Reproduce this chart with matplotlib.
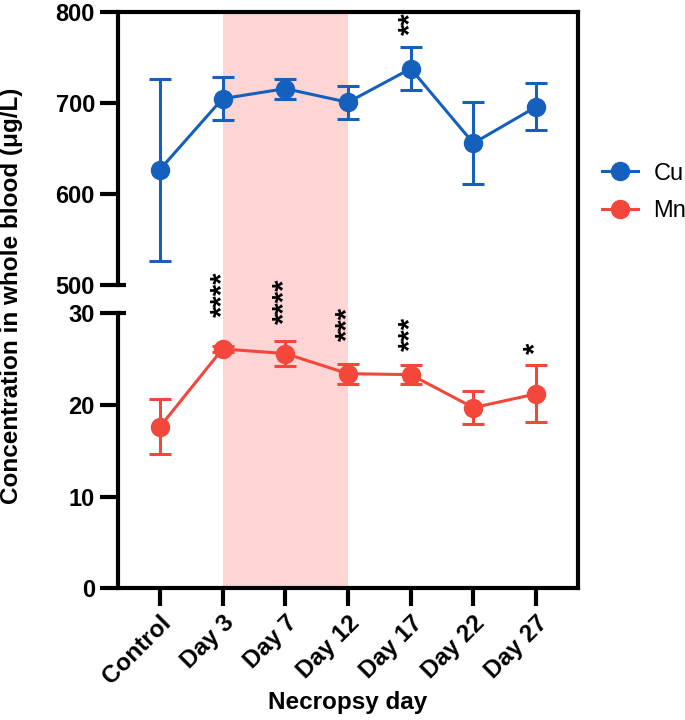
import numpy as np
import matplotlib
matplotlib.use("Agg")
import matplotlib.pyplot as plt
from matplotlib.lines import Line2D

plt.rcParams['font.family'] = ['Liberation Sans', 'DejaVu Sans']

days = ["Control", "Day 3", "Day 7", "Day 12", "Day 17", "Day 22", "Day 27"]

cu_mean = [627, 705, 716, 701, 738, 656, 696]
cu_err = [100, 24, 11, 18, 24, 45, 26]
cu_sig = ["", "", "", "", "**", "", ""]
cu_sig_y = [None, None, None, None, 775, None, None]

mn_mean = [17.6, 26.1, 25.6, 23.4, 23.3, 19.7, 21.2]
mn_err = [3.0, 0.3, 1.4, 1.1, 1.0, 1.8, 3.1]
mn_sig = ["", "****", "****", "***", "***", "", "*"]
mn_sig_y = [None, 29.6, 28.8, 27.0, 25.9, None, 25.5]

exposure = (1, 3)  # shaded days (index of Day 3 .. Day 12)

CU_COLOR = "#1560bd"
MN_COLOR = "#f2473a"
SHADE = "#fdd5d5"

fig = plt.figure(figsize=(6.85, 7.2), dpi=100)
left, width = 0.172, 0.672
top_ax_rect = [left, 0.604, width, 0.379]
bot_ax_rect = [left, 0.183, width, 0.382]

x = np.arange(len(days))
xlim = (-0.67, len(days) - 1 + 0.67)

# background axes: shaded band and the unbroken right spine
bg = fig.add_axes([left, 0.183, width, 0.983 - 0.183], zorder=0)
bg.set_xlim(xlim)
bg.axvspan(exposure[0], exposure[1], color=SHADE, lw=0)
bg.set_xticks([])
bg.set_yticks([])
for s in ["top", "left", "bottom"]:
    bg.spines[s].set_visible(False)
bg.spines["right"].set_linewidth(3)

ax_top = fig.add_axes(top_ax_rect, zorder=2)
ax_bot = fig.add_axes(bot_ax_rect, zorder=2)
for ax in (ax_top, ax_bot):
    ax.patch.set_alpha(0)
    ax.set_xlim(xlim)
    for s in ax.spines.values():
        s.set_linewidth(3)
    ax.tick_params(width=3, length=13, labelsize=17)

ax_top.set_ylim(500, 800)
ax_top.set_yticks([500, 600, 700, 800])
ax_top.set_xticks([])
ax_top.spines["bottom"].set_visible(False)
ax_top.spines["right"].set_visible(False)

ax_bot.set_ylim(0, 30)
ax_bot.set_yticks([0, 10, 20, 30])
ax_bot.spines["top"].set_visible(False)
ax_bot.spines["right"].set_visible(False)
ax_bot.set_xticks(x)
ax_bot.set_xticklabels(days, rotation=45, ha="right", rotation_mode="anchor",
                       fontsize=17.5, fontweight="bold")

for ax in (ax_top, ax_bot):
    for lab in ax.get_yticklabels():
        lab.set_fontweight("bold")

# break caps on the left spine
ax_top.plot([0, 0.018], [500, 500], color="black", lw=3,
            transform=ax_top.get_yaxis_transform(), clip_on=False, solid_capstyle="butt")
ax_bot.plot([0, 0.018], [30, 30], color="black", lw=3,
            transform=ax_bot.get_yaxis_transform(), clip_on=False, solid_capstyle="butt")

ekw = dict(marker="o", markersize=13, lw=2.2, elinewidth=2.2, capsize=8, capthick=2.2)
ax_top.errorbar(x, cu_mean, yerr=cu_err, color=CU_COLOR, clip_on=False, **ekw)
ax_bot.errorbar(x, mn_mean, yerr=mn_err, color=MN_COLOR, clip_on=False, **ekw)

for ax, labels, ys in ((ax_top, cu_sig, cu_sig_y), (ax_bot, mn_sig, mn_sig_y)):
    for xi, s, yv in zip(x, labels, ys):
        if s:
            ax.text(xi, yv, s, rotation=90, ha="center", va="bottom",
                    fontsize=21, fontweight="bold", clip_on=False)

fig.text(0.0175, 0.589, "Concentration in whole blood (\u03bcg/L)", rotation=90,
         ha="center", va="center", fontsize=17.5, fontweight="bold")
fig.text(0.508, 0.025, "Necropsy day", ha="center", va="center",
         fontsize=17.5, fontweight="bold")

handles = [
    Line2D([], [], color=CU_COLOR, marker="o", markersize=13, lw=2.2),
    Line2D([], [], color=MN_COLOR, marker="o", markersize=13, lw=2.2),
]
fig.legend(handles, ["Cu", "Mn"], loc="center left", bbox_to_anchor=(0.879, 0.733),
           frameon=False, fontsize=17, handlelength=1.5, handletextpad=0.68,
           labelspacing=0.65, borderpad=0, borderaxespad=0)

fig.savefig("out.png", dpi=100)
